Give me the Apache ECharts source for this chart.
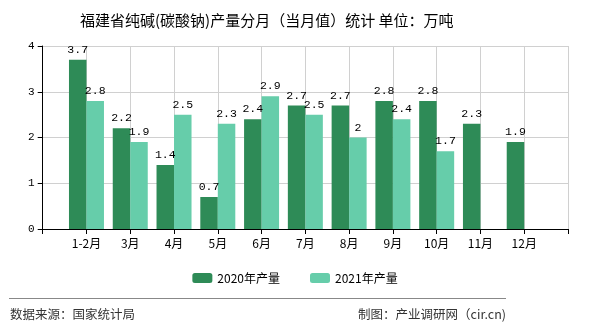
<!DOCTYPE html>
<html><head><meta charset="utf-8">
<script src="https://cdn.jsdelivr.net/npm/echarts@6/dist/echarts.min.js"></script>
<style>html,body{margin:0;padding:0;background:#fff}#c{width:590px;height:330px}</style>
</head><body><div id="c"></div>
<script>
const categories = ['', '1-2月', '3月', '4月', '5月', '6月', '7月', '8月', '9月', '10月', '11月', '12月', ''];
const series2020 = [null, 3.7, 2.2, 1.4, 0.7, 2.4, 2.7, 2.7, 2.8, 2.8, 2.3, 1.9, null];
const series2021 = [null, 2.8, 1.9, 2.5, 2.3, 2.9, 2.5, 2.0, 2.4, 1.7, null, null, null];
const yTicks = [0, 1, 2, 3, 4];
const seriesNames = ['2020年产量', '2021年产量'];
const titleText = '福建省纯碱(碳酸钠)产量分月（当月值）统计 单位：万吨';

const chart = echarts.init(document.getElementById('c'), null, {renderer: 'canvas'});
const labelStyle = {show: true, position: 'top', distance: 4, color: '#000', fontSize: 11.5, fontFamily: 'Liberation Mono, monospace'};
chart.setOption({
  backgroundColor: '#fff',
  animation: false,
  title: {text: titleText, left: 75, top: 8, textStyle: {fontSize: 15, fontWeight: 'normal', color: '#000', fontFamily: 'Noto Sans CJK SC'}},
  legend: {data: seriesNames, bottom: 41, left: 'center', itemWidth: 20, itemHeight: 10, itemGap: 30,
    textStyle: {fontSize: 12, color: '#000', fontFamily: 'Noto Sans CJK SC'}},
  grid: {left: 42.7, right: 22, top: 46, bottom: 101, containLabel: false},
  xAxis: {type: 'category', data: categories, boundaryGap: false,
    axisLine: {lineStyle: {color: '#000'}},
    axisTick: {show: true, alignWithLabel: true, length: 5, lineStyle: {color: '#000'}},
    axisLabel: {color: '#000', fontSize: 12, interval: 0, margin: 8, fontFamily: 'Noto Sans CJK SC'},
    splitLine: {show: true, lineStyle: {color: '#d0d0d0'}}},
  yAxis: {type: 'value', min: yTicks[0], max: yTicks[yTicks.length - 1], interval: 1,
    axisLine: {show: true, lineStyle: {color: '#000'}},
    axisTick: {show: true, length: 5, lineStyle: {color: '#000'}},
    axisLabel: {color: '#000', fontSize: 11, margin: 8, fontFamily: 'Liberation Mono, monospace'},
    splitLine: {show: true, lineStyle: {color: '#d0d0d0'}}},
  series: [
    {name: seriesNames[0], type: 'bar', data: series2020, barWidth: 17.5, barGap: '0%', itemStyle: {color: '#2E8B57'}, label: labelStyle},
    {name: seriesNames[1], type: 'bar', data: series2021, barWidth: 17.5, barGap: '0%', itemStyle: {color: '#66CDAA'}, label: labelStyle}
  ],
  graphic: [
    {type: 'line', shape: {x1: 9, y1: 298.5, x2: 506, y2: 298.5}, style: {stroke: '#888', lineWidth: 1}},
    {type: 'text', left: 10, top: 308, style: {text: '数据来源：国家统计局', fontSize: 12.5, fill: '#333', fontFamily: 'Noto Sans CJK SC'}},
    {type: 'text', right: 84, top: 308, style: {text: '制图：产业调研网（cir.cn)', fontSize: 12.5, fill: '#333', fontFamily: 'Noto Sans CJK SC'}}
  ]
});
</script></body></html>
